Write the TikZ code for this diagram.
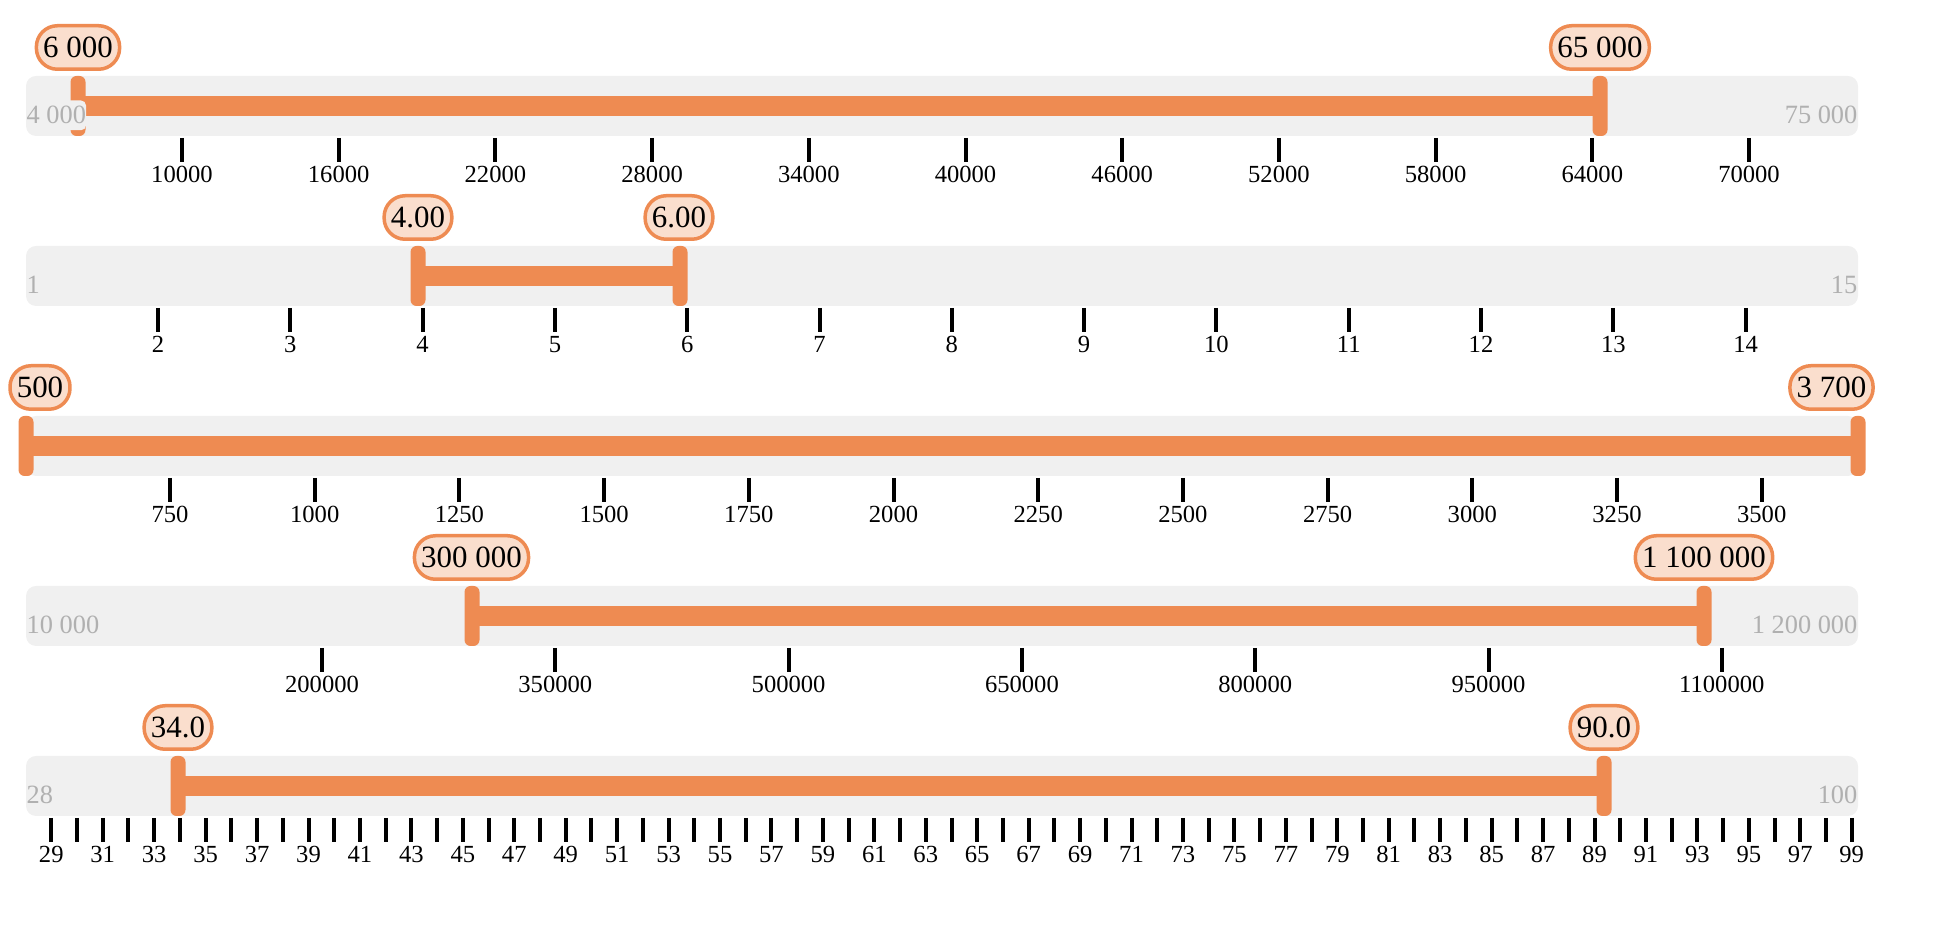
\documentclass[tikz,border=0pt]{standalone}
\usepackage{fontspec}
\setmainfont{Liberation Serif}
\usepackage{tikz}

\definecolor{barorange}{RGB}{238,139,82}
\definecolor{bubblefill}{RGB}{250,222,205}
\definecolor{trackgray}{RGB}{240,240,240}
\definecolor{limitgray}{RGB}{176,176,176}

\tikzset{
	track/.style = {fill=trackgray, rounded corners=1mm},
	handle/.style = {rectangle, fill=barorange, inner sep=0pt, minimum width=1.5mm, minimum height=6mm, rounded corners=0.6mm},
	rangebar/.style = {draw=barorange, line width=2mm},
	bubble/.style = {rectangle, draw=barorange, line width=0.35mm, fill=bubblefill, rounded corners=2.1mm, minimum height=4.35mm, inner xsep=0.68mm, inner ysep=0pt, font=\fontsize{8.8pt}{9pt}\selectfont},
	tick/.style = {line width=0.4mm},
	ticklabel/.style = {anchor=base, inner sep=0pt, font=\fontsize{7pt}{8pt}\selectfont},
	limit/.style = {text=limitgray, fill=trackgray, inner xsep=0pt, inner ysep=0.6mm, rounded corners=0.5mm, font=\fontsize{7.5pt}{8pt}\selectfont}
}

\begin{document}
\begin{tikzpicture}[x=0.1mm, y=-0.1mm]
	\useasboundingbox (0,0) rectangle (1960,950);

	% first slider
	\begin{scope}[shift={(0,106)}]
		\fill [track] (26,-30) rectangle (1858,30);
		\node [handle] (lo1) at (78,0) {};
		\node [handle] (hi1) at (1600,0) {};
		\draw [rangebar] (lo1.center) -- (hi1.center);
		\node [limit, anchor=base west] (min1) at (26,18) {4 000};
		\node [limit, anchor=base east] (max1) at (1858,18) {75 000};
		\node [bubble] (val1a) at (78,-58.5) {6 000};
		\node [bubble] (val1b) at (1600,-58.5) {65 000};
		\foreach \v [count=\k from 0] in {10000,16000,22000,28000,34000,40000,46000,52000,58000,64000,70000} {
			\draw [tick] ({182+\k*156.7},32) -- ++(0,24);
			\node [ticklabel] (tl1-\k) at ({182+\k*156.7},77) {\v};
		}
	\end{scope}

	% second slider
	\begin{scope}[shift={(0,276)}]
		\fill [track] (26,-30) rectangle (1858,30);
		\node [handle] (lo2) at (418,0) {};
		\node [handle] (hi2) at (680,0) {};
		\draw [rangebar] (lo2.center) -- (hi2.center);
		\node [limit, anchor=base west] (min2) at (26,18) {1};
		\node [limit, anchor=base east] (max2) at (1858,18) {15};
		\node [bubble] (val2a) at (418,-58.5) {4.00};
		\node [bubble] (val2b) at (679,-58.5) {6.00};
		\foreach \v [count=\k from 0] in {2,...,14} {
			\draw [tick] ({158+\k*132.3},32) -- ++(0,24);
			\node [ticklabel] (tl2-\k) at ({158+\k*132.3},77) {\v};
		}
	\end{scope}

	% third slider
	\begin{scope}[shift={(0,446)}]
		\fill [track] (26,-30) rectangle (1858,30);
		\node [handle] (lo3) at (26,0) {};
		\node [handle] (hi3) at (1858,0) {};
		\draw [rangebar] (lo3.center) -- (hi3.center);
		\node [bubble] (val3a) at (40,-58.5) {500};
		\node [bubble] (val3b) at (1831.5,-58.5) {3 700};
		\foreach \v [count=\k from 0] in {750,1000,1250,1500,1750,2000,2250,2500,2750,3000,3250,3500} {
			\draw [tick] ({170+\k*144.7},32) -- ++(0,24);
			\node [ticklabel] (tl3-\k) at ({170+\k*144.7},77) {\v};
		}
	\end{scope}

	% fourth slider
	\begin{scope}[shift={(0,616)}]
		\fill [track] (26,-30) rectangle (1858,30);
		\node [handle] (lo4) at (472,0) {};
		\node [handle] (hi4) at (1704,0) {};
		\draw [rangebar] (lo4.center) -- (hi4.center);
		\node [limit, anchor=base west] (min4) at (26,18) {10 000};
		\node [limit, anchor=base east] (max4) at (1858,18) {1 200 000};
		\node [bubble] (val4a) at (471.5,-58.5) {300 000};
		\node [bubble] (val4b) at (1704,-58.5) {1 100 000};
		\foreach \v [count=\k from 0] in {200000,350000,500000,650000,800000,950000,1100000} {
			\draw [tick] ({322+\k*233.3},32) -- ++(0,24);
			\node [ticklabel] (tl4-\k) at ({322+\k*233.3},77) {\v};
		}
	\end{scope}

	% fifth slider
	\begin{scope}[shift={(0,786)}]
		\fill [track] (26,-30) rectangle (1858,30);
		\node [handle] (lo5) at (178,0) {};
		\node [handle] (hi5) at (1604,0) {};
		\draw [rangebar] (lo5.center) -- (hi5.center);
		\node [limit, anchor=base west] (min5) at (26,18) {28};
		\node [limit, anchor=base east] (max5) at (1858,18) {100};
		\node [bubble] (val5a) at (178,-58.5) {34.0};
		\node [bubble] (val5b) at (1604,-58.5) {90.0};
		\foreach \v in {29,...,99}
			\draw [tick] ({51.3+(\v-29)*25.72},32) -- ++(0,24);
		\foreach \v in {29,31,...,99}
			\node [ticklabel] (tl5-\v) at ({51.3+(\v-29)*25.72},77) {\v};
	\end{scope}
\end{tikzpicture}
\end{document}
